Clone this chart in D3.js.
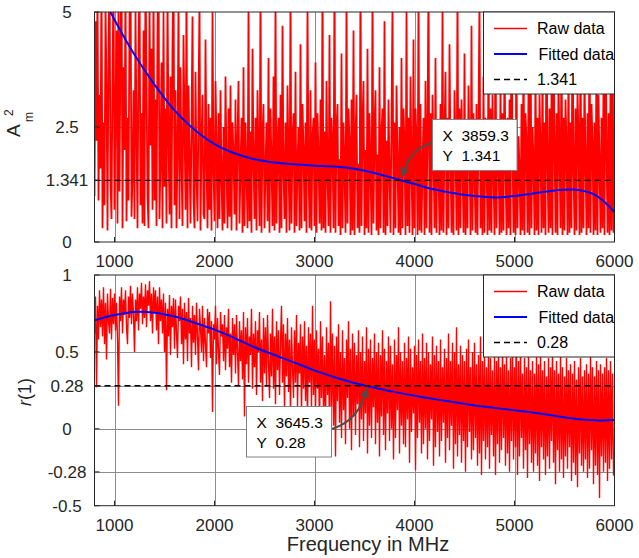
<!DOCTYPE html>
<html>
<head>
<meta charset="utf-8">
<script src="https://cdn.jsdelivr.net/npm/d3@7"></script>
<style>
  body { margin: 0; background: #fff; }
  svg { display: block; font-family: "Liberation Sans", Arial, sans-serif; }
</style>
</head>
<body>
<svg id="chart" width="639" height="558"></svg>
<script>
/* ===== Data ===== */

// raw samples: one value every 10 MHz from 800 MHz to 6000 MHz (one row = 100 MHz)
const rawStart = 800;
const rawStep = 10;

const ampRaw = [
  1.0, 4.8, 2.2, 5.5, 0.9, 3.2, 1.6, 6.0, 0.3, 2.6,
  0.8, 5.2, 3.4, 0.25, 4.1, 6.2, 1.3, 0.5, 3.6, 5.8,
  0.7, 2.9, 4.6, 0.4, 5.4, 1.1, 4.4, 6.1, 0.3, 3.8,
  2.0, 5.6, 0.45, 2.7, 0.9, 4.9, 6.3, 0.55, 1.4, 3.3,
  0.5, 5.1, 2.4, 0.3, 4.0, 5.9, 0.8, 2.8, 0.4, 4.6,
  0.35, 6.0, 3.5, 1.0, 0.3, 5.3, 2.1, 4.2, 0.7, 5.7,
  0.9, 3.1, 0.35, 4.7, 6.2, 0.5, 1.8, 3.9, 0.3, 5.0,
  1.2, 2.9, 0.4, 5.5, 2.3, 0.6, 3.6, 0.3, 4.4, 6.0,
  0.8, 3.3, 0.3, 2.0, 5.2, 0.5, 3.8, 1.7, 0.35, 4.5,
  2.6, 0.7, 5.6, 0.3, 3.4, 1.9, 0.4, 2.5, 4.9, 0.9,
  0.3, 3.7, 1.5, 0.45, 2.9, 5.3, 0.25, 2.2, 3.2, 0.6,
  0.5, 4.4, 1.8, 0.3, 3.0, 0.7, 2.7, 0.25, 5.0, 1.6,
  0.45, 3.5, 2.1, 0.3, 2.8, 0.5, 3.3, 1.4, 0.25, 2.5,
  0.4, 3.6, 1.7, 0.3, 2.9, 0.55, 3.4, 0.25, 2.6, 1.9,
  0.6, 3.1, 0.25, 2.2, 3.5, 0.4, 1.6, 2.7, 0.2, 3.8,
  0.35, 2.6, 1.5, 0.3, 5.1, 0.45, 2.4, 0.2, 4.2, 1.8,
  0.5, 2.7, 0.25, 3.3, 1.9, 0.35, 5.6, 0.2, 2.3, 3.0,
  0.3, 1.6, 2.6, 0.45, 4.0, 0.2, 2.9, 1.7, 0.35, 3.6,
  0.25, 5.3, 0.4, 2.1, 2.7, 0.2, 3.2, 0.3, 4.7, 1.5,
  0.5, 2.6, 0.2, 3.4, 1.8, 0.25, 5.5, 0.4, 2.2, 2.8,
  0.2, 3.7, 0.35, 1.7, 2.5, 0.25, 4.3, 0.3, 3.0, 2.0,
  0.45, 2.6, 0.2, 5.2, 1.6, 0.3, 3.3, 0.25, 2.3, 2.7,
  0.35, 3.9, 0.2, 2.8, 1.9, 0.4, 3.1, 0.25, 5.8, 0.3,
  2.4, 0.2, 3.5, 1.5, 0.35, 4.5, 0.2, 2.7, 2.1, 0.3,
  6.0, 0.2, 2.5, 3.0, 0.35, 1.8, 0.15, 4.1, 0.3, 2.6,
  1.6, 0.2, 5.3, 0.4, 2.9, 2.2, 0.15, 3.1, 0.25, 4.6,
  0.15, 2.3, 3.2, 0.3, 1.7, 0.2, 5.9, 0.35, 2.6, 3.5,
  0.15, 2.0, 0.3, 4.2, 0.2, 2.8, 1.6, 0.15, 5.5, 0.4,
  2.5, 3.3, 0.25, 1.9, 0.15, 3.8, 0.3, 2.4, 2.9, 0.2,
  4.8, 0.15, 2.2, 0.35, 3.1, 1.5, 0.2, 2.7, 5.2, 0.15,
  2.6, 0.3, 3.4, 1.8, 0.2, 2.5, 0.15, 4.0, 0.3, 2.9,
  2.1, 0.15, 5.0, 0.35, 2.7, 0.2, 3.6, 1.6, 0.15, 4.4,
  0.3, 2.9, 2.2, 0.15, 5.4, 0.25, 3.0, 0.2, 1.7, 2.7,
  0.15, 3.5, 0.3, 2.4, 5.7, 0.2, 2.8, 0.15, 3.2, 1.9,
  0.3, 4.0, 0.2, 2.6, 1.6, 0.15, 3.0, 0.25, 5.1, 0.2,
  2.3, 3.7, 0.15, 2.7, 0.3, 4.3, 1.8, 0.2, 2.6, 0.15,
  3.3, 2.1, 0.25, 5.6, 0.15, 2.9, 0.3, 3.1, 1.7, 0.2,
  4.1, 0.15, 2.5, 0.3, 3.4, 2.0, 0.15, 4.7, 0.25, 2.8,
  1.6, 0.2, 3.0, 0.15, 2.6, 5.3, 0.3, 2.2, 0.15, 3.6,
  0.2, 2.7, 1.9, 0.15, 4.4, 0.25, 2.9, 0.2, 3.2, 1.5,
  0.15, 5.0, 0.3, 2.6, 2.1, 0.15, 3.5, 0.2, 2.8, 0.25,
  4.2, 1.7, 0.15, 2.7, 0.3, 3.1, 0.15, 5.5, 2.0, 0.2,
  2.6, 0.15, 3.8, 0.3, 2.3, 1.6, 0.15, 3.0, 0.25, 4.5,
  0.15, 2.8, 2.2, 0.2, 3.4, 0.15, 5.2, 0.3, 2.5, 1.8,
  0.15, 3.9, 0.25, 2.7, 0.15, 3.2, 2.0, 0.2, 4.0, 0.3,
  2.6, 0.15, 5.6, 1.7, 0.2, 2.9, 0.3, 3.3, 0.15, 4.3,
  2.2, 0.2, 2.8, 0.15, 3.6, 1.9, 0.3, 4.8, 0.15, 2.7,
  0.25, 3.1, 2.1, 0.15, 3.9, 0.2, 2.6, 0.3, 5.4, 1.6,
  0.15, 2.9, 0.25, 3.3, 2.3, 0.15, 4.6, 0.2, 2.7, 0.3,
  3.7, 1.8, 0.15, 2.8, 0.3, 5.1, 0.2, 3.0, 2.2, 0.15,
  2.6, 0.25, 4.4, 0.15, 3.2, 1.7, 0.2, 2.7, 0.3, 3.6,
  0.15, 4.9, 2.1, 0.2, 2.8, 0.15, 3.4, 0.25, 5.5, 0.2,
  2.3
];

const corrRaw = [
  0.62, 0.86, 0.27, 0.80, 0.58, 0.90, 0.66, 0.84, 0.60, 0.92,
  0.55, 0.82, 0.45, 0.88, 0.70, 0.62, 0.91, 0.58, 0.85, 0.68,
  0.88, 0.64, 0.82, 0.58, 0.15, 0.86, 0.70, 0.92, 0.62, 0.84,
  0.74, 0.90, 0.66, 0.55, 0.86, 0.72, 0.93, 0.68, 0.88, 0.75,
  0.50, 0.84, 0.70, 0.92, 0.64, 0.88, 0.78, 0.95, 0.68, 0.86,
  0.72, 0.94, 0.66, 0.90, 0.80, 0.96, 0.70, 0.88, 0.62, 0.92,
  0.76, 0.90, 0.64, 0.86, 0.55, 0.92, 0.70, 0.84, 0.62, 0.88,
  0.50, 0.82, 0.25, 0.78, 0.60, 0.87, 0.48, 0.80, 0.66, 0.85,
  0.52, 0.84, 0.62, 0.46, 0.80, 0.70, 0.86, 0.55, 0.78, 0.42,
  0.82, 0.58, 0.76, 0.44, 0.85, 0.62, 0.72, 0.40, 0.80, 0.56,
  0.74, 0.48, 0.82, 0.60, 0.38, 0.78, 0.66, 0.50, 0.80, 0.44,
  0.72, 0.55, 0.40, 0.78, 0.62, 0.76, 0.46, 0.70, 0.11, 0.68,
  0.58, 0.80, 0.42, 0.72, 0.50, 0.35, 0.76, 0.60, 0.68, 0.44,
  0.74, 0.38, 0.66, 0.52, 0.78, 0.40, 0.62, 0.30, 0.72, 0.48,
  0.68, 0.36, 0.74, 0.50, 0.28, 0.70, 0.44, 0.64, 0.32, 0.76,
  0.08, 0.66, 0.42, 0.72, 0.30, 0.60, 0.48, 0.78, 0.26, 0.62,
  0.40, 0.70, 0.22, 0.64, 0.50, 0.76, 0.30, 0.58, 0.18, 0.72,
  0.36, 0.66, 0.28, 0.74, 0.44, 0.20, 0.62, 0.34, 0.78, 0.26,
  0.60, 0.16, 0.70, 0.38, 0.64, 0.22, 0.56, 0.80, 0.30, 0.68,
  0.12, 0.62, 0.34, 0.72, 0.24, 0.58, 0.10, 0.66, 0.40, 0.20,
  0.64, 0.30, 0.74, 0.14, 0.56, 0.36, 0.68, 0.08, 0.60, 0.26,
  0.70, 0.18, 0.54, 0.04, 0.66, 0.30, 0.62, 0.12, 0.80, 0.22,
  0.58, 0.06, 0.64, 0.26, 0.52, -0.04, 0.70, 0.20, 0.60, 0.10,
  0.48, 0.00, 0.66, 0.22, 0.56, -0.08, 0.83, 0.14, 0.62, 0.02,
  0.54, -0.18, 0.60, 0.18, 0.68, 0.04, 0.50, -0.06, 0.64, 0.12,
  0.46, -0.10, 0.58, 0.20, 0.70, 0.00, 0.52, -0.14, 0.62, 0.08,
  0.56, -0.04, 0.48, 0.16, 0.64, -0.12, 0.50, 0.06, 0.60, -0.08,
  0.44, 0.10, 0.66, -0.16, 0.52, 0.02, 0.58, -0.06, 0.46, 0.14,
  0.62, -0.10, 0.50, 0.04, 0.56, -0.18, 0.48, 0.08, 0.64, -0.04,
  0.52, -0.14, 0.44, 0.10, 0.60, -0.08, 0.54, 0.00, 0.42, -0.20,
  0.58, -0.06, 0.48, 0.12, 0.66, -0.16, 0.50, 0.02, 0.44, -0.10,
  0.56, -0.12, 0.46, 0.06, 0.60, -0.22, 0.52, -0.02, 0.40, 0.10,
  0.54, -0.27, 0.48, -0.06, 0.58, 0.04, 0.44, -0.16, 0.62, -0.10,
  0.46, 0.00, 0.56, -0.20, 0.50, -0.08, 0.42, 0.06, 0.60, -0.24,
  0.48, -0.12, 0.54, -0.02, 0.44, -0.18, 0.58, -0.08, 0.40, 0.04,
  0.52, -0.22, 0.46, -0.06, 0.62, -0.14, 0.44, 0.02, 0.56, -0.26,
  0.50, -0.10, 0.66, -0.18, 0.42, -0.04, 0.54, -0.22, 0.48, -0.08,
  0.44, -0.28, 0.52, -0.12, 0.58, -0.02, 0.40, -0.20, 0.50, -0.14,
  0.56, -0.06, 0.42, -0.24, 0.48, -0.16, 0.60, -0.30, 0.44, -0.08,
  0.50, -0.20, 0.40, -0.12, 0.54, -0.26, 0.46, -0.04, 0.38, -0.18,
  0.48, -0.30, 0.44, -0.10, 0.56, -0.22, 0.40, -0.14, 0.52, -0.06,
  0.42, -0.24, 0.50, -0.16, 0.38, -0.28, 0.46, -0.08, 0.54, -0.20,
  0.40, -0.12, 0.48, -0.30, 0.44, -0.18, 0.52, -0.06, 0.36, -0.26,
  0.46, -0.14, 0.40, -0.32, 0.50, -0.10, 0.38, -0.22, 0.44, -0.28,
  0.36, -0.16, 0.48, -0.24, 0.42, -0.34, 0.50, -0.12, 0.38, -0.20,
  0.44, -0.30, 0.34, -0.18, 0.46, -0.26, 0.40, -0.08, 0.52, -0.22,
  0.38, -0.36, 0.44, -0.14, 0.36, -0.28, 0.48, -0.20, 0.40, -0.32,
  0.34, -0.18, 0.46, -0.26, 0.38, -0.12, 0.42, -0.34, 0.36, -0.22,
  0.44, -0.30, 0.32, -0.38, 0.40, -0.16, 0.46, -0.24, 0.34, -0.28,
  0.38, -0.20, 0.42, -0.32, 0.36, -0.26, 0.48, -0.14, 0.40, -0.36,
  0.34, -0.24, 0.44, -0.30, 0.38, -0.45, 0.42, -0.18, 0.36, -0.28,
  0.40, -0.22, 0.46, -0.34, 0.38, -0.26, 0.44, -0.20, 0.36, -0.30,
  -0.30
];

// fitted curves
const fitFreq = [800, 1000, 1200, 1400, 1600, 1800, 2000, 2200, 2400, 2600, 2800, 3000, 3200, 3400,
  3600, 3800, 4000, 4200, 4400, 4600, 4800, 5000, 5200, 5400, 5600, 5800, 5900, 6000];
const ampFit = [5.7, 4.83, 4.07, 3.42, 2.86, 2.44, 2.13, 1.93, 1.80, 1.73, 1.69, 1.66, 1.64, 1.59,
  1.50, 1.38, 1.26, 1.14, 1.06, 1.00, 0.97, 1.00, 1.06, 1.12, 1.14, 1.03, 0.87, 0.65];
const corrFit = [0.705, 0.74, 0.76, 0.755, 0.73, 0.69, 0.645, 0.59, 0.53, 0.48, 0.43, 0.38, 0.335, 0.298,
  0.267, 0.24, 0.215, 0.193, 0.172, 0.152, 0.136, 0.121, 0.104, 0.085, 0.066, 0.055, 0.054, 0.057];

const xTicks = [1000, 2000, 3000, 4000, 5000, 6000];
const ampTicks = [0, 1.341, 2.5, 5];
const ampTickLabels = ['0', '1.341', '2.5', '5'];
const corrTicks = [-0.5, -0.28, 0, 0.28, 0.5, 1];
const corrTickLabels = ['-0.5', '-0.28', '0', '0.28', '0.5', '1'];
const legendNames = ['Raw data', 'Fitted data'];

const ampThreshold = 1.341;
const corrThreshold = 0.28;
// data tips: shown text and the point the arrow lands on
const ampTip = { label: ['3859.3', '1.341'], freq: 3859.3, value: 1.341 };
const corrTip = { label: ['3645.3', '0.28'], freq: 3520, value: 0.28 };

/* ===== Layout ===== */

const svg = d3.select('#chart');
const textColor = '#262626';
const x = d3.scaleLinear().domain([800, 6000]).range([94.5, 614.5]);

const defs = svg.append('defs');
defs.append('marker')
  .attr('id', 'tip-arrow')
  .attr('viewBox', '0 0 10 10')
  .attr('refX', 9).attr('refY', 5)
  .attr('markerWidth', 4.5).attr('markerHeight', 4.5)
  .attr('markerUnits', 'strokeWidth')
  .attr('orient', 'auto')
  .append('path')
  .attr('d', 'M0,0 L10,5 L0,10 z')
  .attr('fill', '#4d4d4d');

function drawPanel(opts) {
  const y = d3.scaleLinear().domain(opts.domain).range(opts.range);
  const [x0, x1] = x.range();
  const [yb, yt] = opts.range;
  const g = svg.append('g');

  const clipId = 'clip-' + opts.id;
  defs.append('clipPath').attr('id', clipId)
    .append('rect').attr('x', x0).attr('y', yt).attr('width', x1 - x0).attr('height', yb - yt);

  // grid
  g.append('g').selectAll('line').data(xTicks.slice(0, -1)).join('line')
    .attr('x1', d => Math.round(x(d)) + 0.5).attr('x2', d => Math.round(x(d)) + 0.5)
    .attr('y1', yt).attr('y2', yb)
    .attr('stroke', '#8c8c8c').attr('stroke-width', 1);
  g.append('g').selectAll('line').data(opts.ticks.filter(t => t !== opts.domain[0] && t !== opts.domain[1])).join('line')
    .attr('x1', x0).attr('x2', x1)
    .attr('y1', d => Math.round(y(d)) + 0.5).attr('y2', d => Math.round(y(d)) + 0.5)
    .attr('stroke', '#8c8c8c').attr('stroke-width', 1);

  const plot = g.append('g').attr('clip-path', `url(#${clipId})`);

  // raw data
  const rawLine = d3.line()
    .x((d, i) => x(rawStart + i * rawStep))
    .y(d => y(d));
  plot.append('path')
    .attr('d', rawLine(opts.raw))
    .attr('fill', 'none')
    .attr('stroke', '#ff0000')
    .attr('stroke-width', opts.rawWidth)
    .attr('stroke-linejoin', 'bevel');

  // fitted
  const fitLine = d3.line()
    .x((d, i) => x(fitFreq[i]))
    .y(d => y(d))
    .curve(d3.curveCatmullRom);
  plot.append('path')
    .attr('d', fitLine(opts.fit))
    .attr('fill', 'none')
    .attr('stroke', '#0000ff')
    .attr('stroke-width', 2);

  // threshold
  plot.append('line')
    .attr('x1', x0).attr('x2', x1)
    .attr('y1', y(opts.threshold)).attr('y2', y(opts.threshold))
    .attr('stroke', '#000').attr('stroke-width', 1.3)
    .attr('stroke-dasharray', '6,4');

  // box + inward ticks
  g.append('rect')
    .attr('x', x0).attr('y', yt).attr('width', x1 - x0).attr('height', yb - yt)
    .attr('fill', 'none').attr('stroke', textColor).attr('stroke-width', 1);
  g.append('g').selectAll('line').data(xTicks).join('line')
    .attr('x1', d => x(d)).attr('x2', d => x(d))
    .attr('y1', yb).attr('y2', yb - 5)
    .attr('stroke', textColor);
  g.append('g').selectAll('line').data(opts.ticks).join('line')
    .attr('x1', x0).attr('x2', x0 + 5)
    .attr('y1', d => y(d)).attr('y2', d => y(d))
    .attr('stroke', textColor);

  // tick labels
  g.append('g').selectAll('text').data(xTicks).join('text')
    .attr('x', d => x(d)).attr('y', yb + 25)
    .attr('text-anchor', 'middle')
    .style('font-size', '17px').style('fill', textColor)
    .text(d => d);
  g.append('g').selectAll('text').data(opts.ticks).join('text')
    .attr('x', 67).attr('y', d => y(d) + 6)
    .attr('text-anchor', 'middle')
    .style('font-size', '17px').style('fill', textColor)
    .text((d, i) => opts.tickLabels[i]);

  // legend
  const lg = g.append('g').attr('transform', `translate(483.5,${yt})`);
  lg.append('rect').attr('width', 131).attr('height', 82)
    .attr('fill', '#fff').attr('stroke', textColor).attr('stroke-width', 1);
  const entries = [
    { name: legendNames[0], color: '#ff0000', width: 1.3, dash: null },
    { name: legendNames[1], color: '#0000ff', width: 2, dash: null },
    { name: opts.tickLabels[opts.ticks.indexOf(opts.threshold)], color: '#000', width: 1.3, dash: '6,4' }
  ];
  entries.forEach((e, i) => {
    const ey = 16.5 + i * 25.5;
    lg.append('line')
      .attr('x1', 10.5).attr('x2', 43.5).attr('y1', ey).attr('y2', ey)
      .attr('stroke', e.color).attr('stroke-width', e.width)
      .attr('stroke-dasharray', e.dash);
    lg.append('text')
      .attr('x', i === 1 ? 55 : 53.5).attr('y', ey + 5.5)
      .style('font-size', '16px').style('fill', '#000')
      .text(e.name);
  });

  // data tip
  const tip = opts.tip;
  const px = x(tip.freq), py = y(tip.value);
  const tg = g.append('g');
  tg.append('path')
    .attr('d', opts.arrowPath(px, py))
    .attr('fill', 'none').attr('stroke', '#4d4d4d').attr('stroke-width', 2)
    .attr('marker-end', 'url(#tip-arrow)');
  tg.append('rect')
    .attr('x', opts.tipBox[0]).attr('y', opts.tipBox[1])
    .attr('width', opts.tipBox[2]).attr('height', opts.tipBox[3])
    .attr('fill', '#fff').attr('stroke', '#808080').attr('stroke-width', 1);
  ['X', 'Y'].forEach((k, i) => {
    const ty = opts.tipBox[1] + 21.5 + i * 20;
    tg.append('text').attr('x', opts.tipBox[0] + 10).attr('y', ty)
      .style('font-size', '15.5px').style('fill', '#000').text(k);
    tg.append('text').attr('x', opts.tipBox[0] + 29).attr('y', ty)
      .style('font-size', '15.5px').style('fill', '#000').text(tip.label[i]);
  });

  return { g, y };
}

drawPanel({
  id: 'amp',
  domain: [0, 5],
  range: [242, 12],
  ticks: ampTicks,
  tickLabels: ampTickLabels,
  raw: ampRaw,
  rawWidth: 1.8,
  fit: ampFit,
  threshold: ampThreshold,
  tip: ampTip,
  tipBox: [432.5, 119.5, 84.5, 51],
  arrowPath: (px, py) => `M432,143 Q410,148 ${px + 2},${py - 4}`
});

drawPanel({
  id: 'corr',
  domain: [-0.5, 1],
  range: [505.7, 275],
  ticks: corrTicks,
  tickLabels: corrTickLabels,
  raw: corrRaw,
  rawWidth: 1.4,
  fit: corrFit,
  threshold: corrThreshold,
  tip: corrTip,
  tipBox: [246.5, 406.5, 85, 50.5],
  arrowPath: (px, py) => `M332,429 Q360,420 ${px},${py + 3}`
});

// axis titles
const amp = svg.append('g').attr('transform', 'translate(20,137) rotate(-90)')
  .style('fill', textColor);
amp.append('text').attr('x', 0).attr('y', 0).style('font-size', '19px').text('A');
amp.append('text').attr('x', 21).attr('y', -7).style('font-size', '12px').text('2');
amp.append('text').attr('x', 15).attr('y', 13).style('font-size', '12px').text('m');

svg.append('text')
  .attr('transform', 'translate(31,392) rotate(-90)')
  .attr('text-anchor', 'middle')
  .style('font-size', '18px').style('fill', textColor)
  .html('<tspan font-style="italic">r</tspan>(1)');

svg.append('text')
  .attr('x', 368).attr('y', 551)
  .attr('text-anchor', 'middle')
  .style('font-size', '20px').style('fill', textColor)
  .text('Frequency in MHz');
</script>
</body>
</html>
